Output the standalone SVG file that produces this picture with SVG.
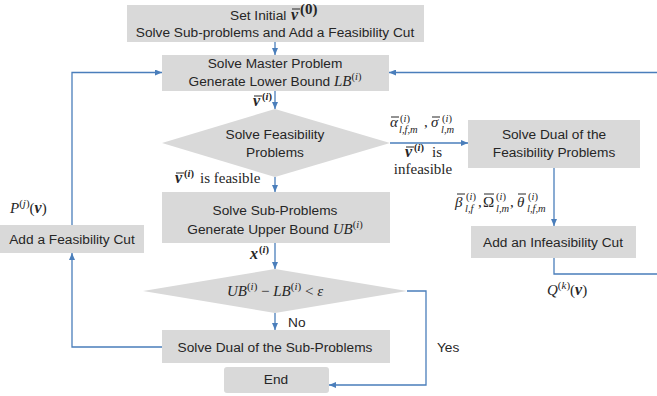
<svg xmlns="http://www.w3.org/2000/svg" width="657" height="396" viewBox="0 0 657 396">
<defs>
<marker id="ah" markerUnits="userSpaceOnUse" markerWidth="7" markerHeight="6" refX="7" refY="3" orient="auto">
<path d="M0,0 L7,3 L0,6 z" fill="#4A7EBB"/>
</marker>
<style>
.box{fill:#D9D9D9}
.t{font-family:"Liberation Sans",Arial,sans-serif;font-size:13.7px;fill:#262626;text-anchor:middle}
.m{font-family:"Liberation Serif","Times New Roman",serif;font-style:italic}
.r{font-family:"Liberation Serif","Times New Roman",serif;font-size:15px;fill:#262626}
.mi{font-family:"Liberation Serif","Times New Roman",serif;font-style:italic;font-size:15px;fill:#262626}
.bv{font-family:"Liberation Serif","Times New Roman",serif;font-style:italic;font-weight:bold;font-size:16px;fill:#262626}
.s{font-size:10.5px}
.bar{stroke:#262626;stroke-width:1}
.ln{fill:none;stroke:#4A7EBB;stroke-width:1.3}
</style>
</defs>
<g id="connectors">
<path class="ln" d="M275,42 V55" marker-end="url(#ah)"/>
<path class="ln" d="M275,91 V109" marker-end="url(#ah)"/>
<path class="ln" d="M275,177 V192" marker-end="url(#ah)"/>
<path class="ln" d="M275,243 V269" marker-end="url(#ah)"/>
<path class="ln" d="M275,313 V330" marker-end="url(#ah)"/>
<path class="ln" d="M390,143 H468" marker-end="url(#ah)"/>
<path class="ln" d="M554,168 V226" marker-end="url(#ah)"/>
<path class="ln" d="M554,258 V274 H665 V72.5 H389" marker-end="url(#ah)"/>
<path class="ln" d="M162,347 H72 V253" marker-end="url(#ah)"/>
<path class="ln" d="M72,225 V72.5 H162" marker-end="url(#ah)"/>
<path class="ln" d="M407,291 H426 V385 H329" marker-end="url(#ah)"/>
</g>
<g id="init">
<rect class="box" x="127" y="5" width="297" height="37"/>
<text class="t" x="230" y="20" style="text-anchor:start">Set Initial</text>
<text class="bv" x="291" y="20">v</text>
<line class="bar" x1="292" y1="9" x2="300" y2="9"/>
<text class="r" x="300" y="14" font-size="11" font-weight="bold">(0)</text>
<text class="t" x="275" y="37">Solve Sub-problems and Add a Feasibility Cut</text>
</g>
<g id="master">
<rect class="box" x="162" y="55" width="227" height="36"/>
<text class="t" x="275" y="68">Solve Master Problem</text>
<text class="t" x="275" y="86">Generate Lower Bound <tspan class="m" font-size="15">LB</tspan><tspan font-family="Liberation Serif,serif" font-size="10.5" dy="-6">(<tspan font-style="italic">i</tspan>)</tspan></text>
</g>
<g id="feas">
<polygon class="box" points="275,109 390,143 275,177 162,143"/>
<text class="t" x="275" y="139">Solve Feasibility</text>
<text class="t" x="275" y="157">Problems</text>
</g>
<g id="dualfeas">
<rect class="box" x="468" y="120" width="172" height="48"/>
<text class="t" x="554" y="139">Solve Dual of the</text>
<text class="t" x="554" y="157">Feasibility Problems</text>
</g>
<g id="infcut">
<rect class="box" x="471" y="226" width="165" height="32"/>
<text class="t" x="553" y="247">Add an Infeasibility Cut</text>
</g>
<g id="sub">
<rect class="box" x="162" y="192" width="228" height="51"/>
<text class="t" x="275" y="215">Solve Sub-Problems</text>
<text class="t" x="275" y="234">Generate Upper Bound <tspan class="m" font-size="15">UB</tspan><tspan font-family="Liberation Serif,serif" font-size="10.5" dy="-6">(<tspan font-style="italic">i</tspan>)</tspan></text>
</g>
<g id="conv">
<polygon class="box" points="275,269 407,291 275,313 143,291"/>
<text class="r" x="275" y="296" text-anchor="middle" font-size="16"><tspan font-style="italic">UB</tspan><tspan font-size="11" dy="-6">(<tspan font-style="italic">i</tspan>)</tspan><tspan dy="6"> − </tspan><tspan font-style="italic">LB</tspan><tspan font-size="11" dy="-6">(<tspan font-style="italic">i</tspan>)</tspan><tspan dy="6"> &lt; </tspan><tspan font-style="italic">ε</tspan></text>
</g>
<g id="dualsub">
<rect class="box" x="162" y="330" width="228" height="33"/>
<text class="t" x="275" y="352">Solve Dual of the Sub-Problems</text>
</g>
<g id="end">
<rect class="box" x="224" y="367" width="105" height="26" rx="3"/>
<text class="t" x="276" y="384">End</text>
</g>
<g id="addfeas">
<rect class="box" x="0" y="225" width="144" height="28"/>
<text class="t" x="72" y="244">Add a Feasibility Cut</text>
</g>
<g id="labels">
<text class="bv" x="253" y="106">v</text>
<line class="bar" x1="254" y1="96" x2="262" y2="96"/>
<text class="r s" x="262" y="100" font-weight="bold">(<tspan font-style="italic">i</tspan>)</text>

<text class="bv" x="175" y="183">v</text>
<line class="bar" x1="176" y1="173" x2="184" y2="173"/>
<text class="r s" x="184" y="177" font-weight="bold">(<tspan font-style="italic">i</tspan>)</text>
<text class="r" x="200" y="183">is feasible</text>

<text class="mi" x="390" y="127">α</text>
<line class="bar" x1="391" y1="117" x2="399" y2="117"/>
<text class="r s" x="400" y="122">(<tspan font-style="italic">i</tspan>)</text>
<text class="mi s" x="399" y="133">l,f,m</text>
<text class="r" x="424" y="127">,</text>
<text class="mi" x="431" y="127">σ</text>
<line class="bar" x1="432" y1="117" x2="440" y2="117"/>
<text class="r s" x="442" y="122">(<tspan font-style="italic">i</tspan>)</text>
<text class="mi s" x="441" y="133">l,m</text>

<text class="bv" x="405" y="157">v</text>
<line class="bar" x1="406" y1="147" x2="414" y2="147"/>
<text class="r s" x="414" y="151" font-weight="bold">(<tspan font-style="italic">i</tspan>)</text>
<text class="r" x="432" y="157">is</text>
<text class="r" x="423" y="174" text-anchor="middle">infeasible</text>

<text class="mi" x="455" y="207">β</text>
<line class="bar" x1="457" y1="194" x2="465" y2="194"/>
<text class="r s" x="466" y="200">(<tspan font-style="italic">i</tspan>)</text>
<text class="mi s" x="465" y="212">l,f</text>
<text class="r" x="478" y="207">,</text>
<text class="r" x="483" y="207">Ω</text>
<line class="bar" x1="484" y1="194" x2="494" y2="194"/>
<text class="r s" x="496" y="200">(<tspan font-style="italic">i</tspan>)</text>
<text class="mi s" x="496" y="212">l,m</text>
<text class="r" x="510" y="207">,</text>
<text class="mi" x="517" y="207">θ</text>
<line class="bar" x1="518" y1="194" x2="526" y2="194"/>
<text class="r s" x="528" y="200">(<tspan font-style="italic">i</tspan>)</text>
<text class="mi s" x="527" y="212">l,f,m</text>

<text class="r" x="10" y="213" font-size="16"><tspan font-style="italic">P</tspan><tspan font-size="11" dy="-6">(<tspan font-style="italic">j</tspan>)</tspan><tspan dy="6">(</tspan><tspan class="bv">v</tspan>)</text>
<text class="bv" x="250" y="259">x</text>
<text class="r s" x="259" y="253" font-weight="bold">(<tspan font-style="italic">i</tspan>)</text>
<text class="r" x="547" y="295" font-size="16"><tspan font-style="italic">Q</tspan><tspan font-size="11" dy="-6">(<tspan font-style="italic">k</tspan>)</tspan><tspan dy="6">(</tspan><tspan class="bv">v</tspan>)</text>
<text class="t" x="288" y="327" style="text-anchor:start">No</text>
<text class="t" x="437" y="352" style="text-anchor:start">Yes</text>
</g>
</svg>
